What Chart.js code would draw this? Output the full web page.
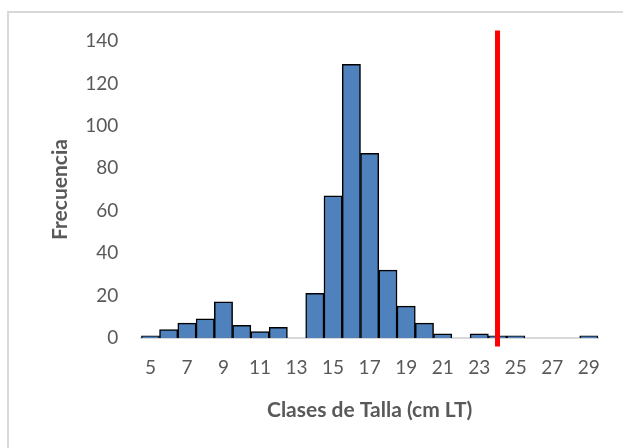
<!DOCTYPE html>
<html>
<head>
<meta charset="utf-8">
<style>
  html, body { margin: 0; padding: 0; background: #fff; overflow: hidden; }
  #frame { position: absolute; left: 7px; top: 11px; width: 640px; height: 460px; border: 2px solid #d9d9d9; }
  #chart { position: absolute; left: 0; top: 0; }
</style>
</head>
<body>
<div id="frame"></div>
<canvas id="chart" width="623" height="448"></canvas>
<script src="https://cdn.jsdelivr.net/npm/chart.js@4"></script>
<script>
// size classes (cm LT) and counts
var clases = ["5","6","7","8","9","10","11","12","13","14","15","16","17","18","19","20","21","22","23","24","25","26","27","28","29"];
var frecuencia = [1, 4, 7, 9, 17, 6, 3, 5, 0, 21, 67, 129, 87, 32, 15, 7, 2, 0, 2, 1, 1, 0, 0, 0, 1];
// reference line at class 24
var lineaClase = "24";
var lineaY = [-4, 145];

var gris = "#595959";
var fuente = "Lato, 'Open Sans', sans-serif";

new Chart(document.getElementById("chart").getContext("2d"), {
  type: 'bar',
  data: {
    labels: clases,
    datasets: [{
      type: 'line',
      label: 'limite',
      data: lineaY.map(function (y) { return { x: lineaClase, y: y }; }),
      borderColor: '#ff0000',
      borderWidth: 5,
      pointRadius: 0,
      clip: false,
      order: 0
    }, {
      label: 'Frecuencia',
      data: frecuencia,
      backgroundColor: '#4f81bd',
      borderColor: '#000000',
      borderWidth: 1.5,
      barPercentage: 1,
      categoryPercentage: 1,
      order: 1
    }]
  },
  options: {
    responsive: false,
    animation: false,
    layout: { padding: { top: 41, right: 25, bottom: 21, left: 48 } },
    plugins: { legend: { display: false }, tooltip: { enabled: false } },
    scales: {
      x: {
        grid: { display: false },
        border: { display: true, color: '#d9d9d9', width: 2 },
        ticks: {
          autoSkip: false,
          maxRotation: 0,
          color: gris,
          font: { family: fuente, size: 19 },
          padding: 10,
          callback: function (v, i) { return (parseInt(clases[i]) - 5) % 2 === 0 ? clases[i] : ''; }
        },
        title: {
          display: true,
          text: 'Clases de Talla (cm LT)',
          color: gris,
          font: { family: fuente, size: 21, weight: 'bold' },
          padding: { top: 9 }
        }
      },
      y: {
        min: 0,
        max: 140,
        grid: { display: false },
        border: { display: false },
        ticks: {
          stepSize: 20,
          color: gris,
          font: { family: fuente, size: 19 },
          padding: 15
        },
        title: {
          display: true,
          text: 'Frecuencia',
          color: gris,
          font: { family: fuente, size: 21, weight: 'bold' },
          padding: { top: 0, bottom: -3 }
        }
      }
    }
  }
});
</script>
</body>
</html>
